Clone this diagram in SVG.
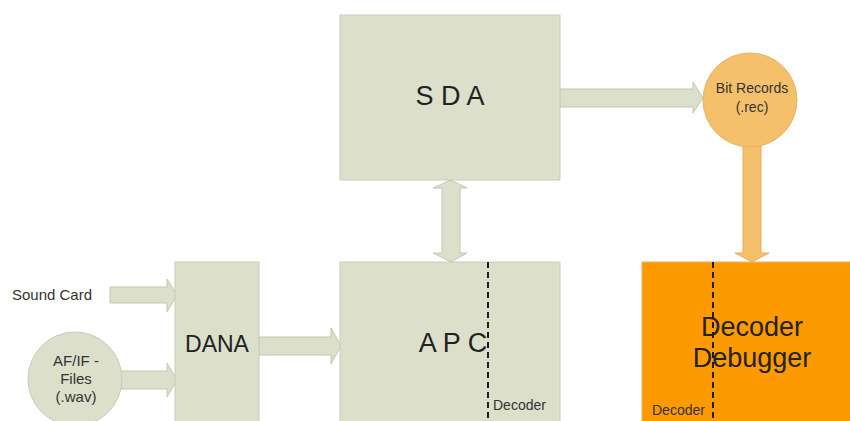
<svg xmlns="http://www.w3.org/2000/svg" width="850" height="421" viewBox="0 0 850 421">
  <style>
    .box { fill: #DCE0CB; stroke: #C9CCBC; stroke-width: 1; }
    .circ { fill: #DCE0CB; stroke: #C9CCBC; stroke-width: 1; }
    .rec { fill: #F5C06C; stroke: #E8B45E; stroke-width: 1; }
    .dbg { fill: #FD9A00; stroke: #E8B070; stroke-width: 1; }
    .arr { fill: #DCE0CB; stroke: #C3C7B3; stroke-width: 1; }
    .arr-o { fill: #F5C06C; stroke: #E2AE5C; stroke-width: 1; }
    .div { stroke: #1E1E1E; stroke-width: 2; stroke-dasharray: 6 4; fill: none; }
    text { font-family: "Liberation Sans", Arial, sans-serif; fill: #222; }
    .big { font-size: 27px; text-anchor: middle; }
    .mid { font-size: 23px; text-anchor: middle; }
    .sm { font-size: 14px; fill: #333; }
    .lbl { font-size: 15px; fill: #333; }
  </style>

  <rect width="850" height="421" fill="#FFFFFF"/>

  <!-- connectors -->
  <g id="connectors">
    <!-- SDA to Bit Records -->
    <polygon class="arr" points="560,89 693,89 693,82 703,98 693,113 693,107 560,107"/>
    <!-- SDA <-> APC -->
    <polygon class="arr" points="451,180 467,188 460,188 460,253 467,253 451,262 433,253 442,253 442,188 433,188"/>
    <!-- Bit Records to Decoder Debugger -->
    <polygon class="arr-o" points="743,146 761,146 761,253 769,253 752,262 735,253 743,253"/>
    <!-- Sound Card to DANA -->
    <polygon class="arr" points="110,287 167,287 167,279 177,295 167,312 167,303 110,303"/>
    <!-- AF/IF files to DANA -->
    <polygon class="arr" points="121,371 167,371 167,363 177,380 167,397 167,389 121,389"/>
    <!-- DANA to APC -->
    <polygon class="arr" points="259,337 331,337 331,328 341,346 331,364 331,355 259,355"/>
  </g>

  <g id="sda">
    <rect class="box" x="340" y="15" width="220" height="165"/>
    <text class="big" x="450" y="105">S D A</text>
  </g>

  <g id="bit-records">
    <circle class="rec" cx="750" cy="100" r="47"/>
    <text class="sm" x="752" y="93" text-anchor="middle">Bit Records</text>
    <text class="sm" x="752" y="112" text-anchor="middle">(.rec)</text>
  </g>

  <g id="apc">
    <rect class="box" x="340" y="262" width="220" height="170"/>
    <line class="div" x1="488" y1="262" x2="488" y2="421"/>
    <text class="big" x="453" y="352">A P C</text>
    <text class="sm" x="493" y="410">Decoder</text>
  </g>

  <g id="decoder-debugger">
    <rect class="dbg" x="642" y="262" width="220" height="170"/>
    <line class="div" x1="713" y1="262" x2="713" y2="421"/>
    <text class="big" x="752" y="336">Decoder</text>
    <text class="big" x="752" y="367">Debugger</text>
    <text class="sm" x="652" y="415">Decoder</text>
  </g>

  <g id="dana">
    <rect class="box" x="175" y="262" width="84" height="170"/>
    <text class="mid" x="217" y="352">DANA</text>
  </g>

  <g id="sound-card">
    <text class="lbl" x="12" y="300">Sound Card</text>
  </g>

  <g id="af-if-files">
    <circle class="circ" cx="75" cy="379" r="47"/>
    <text class="lbl" x="76" y="366" text-anchor="middle">AF/IF -</text>
    <text class="lbl" x="76" y="384" text-anchor="middle">Files</text>
    <text class="lbl" x="76" y="402" text-anchor="middle">(.wav)</text>
  </g>
</svg>
